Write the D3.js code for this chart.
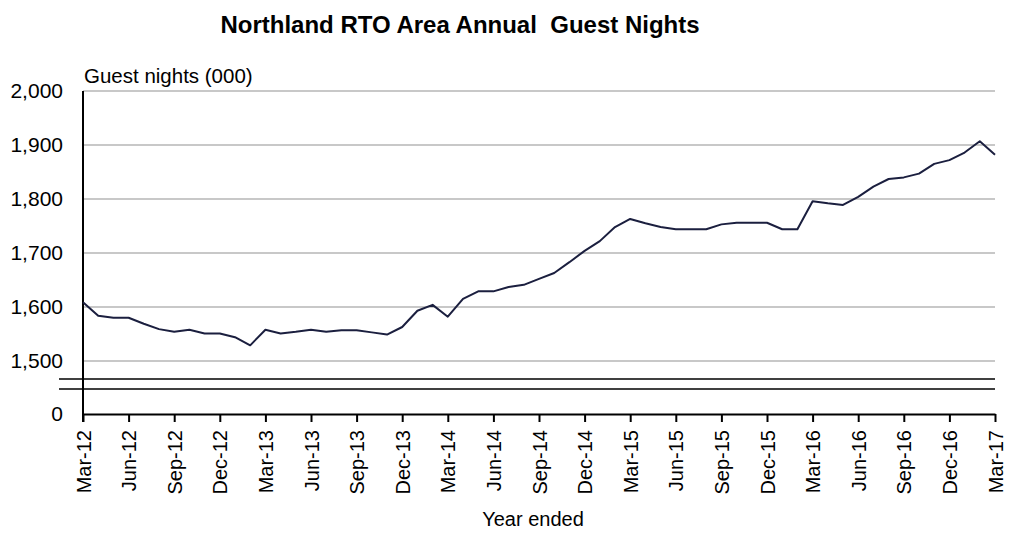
<!DOCTYPE html>
<html>
<head>
<meta charset="utf-8">
<script src="https://cdn.jsdelivr.net/npm/d3@7"></script>
<style>
  body { margin: 0; background: #fff; }
  text { font-family: "Liberation Sans", Arial, sans-serif; fill: #000; }
</style>
</head>
<body>
<div id="chart"></div>
<script>
const months = [
  "Mar-12","Apr-12","May-12","Jun-12","Jul-12","Aug-12","Sep-12","Oct-12","Nov-12","Dec-12",
  "Jan-13","Feb-13","Mar-13","Apr-13","May-13","Jun-13","Jul-13","Aug-13","Sep-13","Oct-13","Nov-13","Dec-13",
  "Jan-14","Feb-14","Mar-14","Apr-14","May-14","Jun-14","Jul-14","Aug-14","Sep-14","Oct-14","Nov-14","Dec-14",
  "Jan-15","Feb-15","Mar-15","Apr-15","May-15","Jun-15","Jul-15","Aug-15","Sep-15","Oct-15","Nov-15","Dec-15",
  "Jan-16","Feb-16","Mar-16","Apr-16","May-16","Jun-16","Jul-16","Aug-16","Sep-16","Oct-16","Nov-16","Dec-16",
  "Jan-17","Feb-17","Mar-17"
];

// guest nights (000), year ended each month
const guestNights = [
  1609, 1584, 1580, 1580, 1569, 1559, 1554, 1558, 1551, 1551,
  1544, 1529, 1558, 1551, 1554, 1558, 1554, 1557, 1557, 1553, 1549, 1563,
  1593, 1604, 1582, 1615, 1629, 1629, 1637, 1641, 1652, 1663, 1683, 1704,
  1722, 1748, 1763, 1755, 1748, 1744, 1744, 1744, 1753, 1756, 1756, 1756,
  1744, 1744, 1796, 1792, 1789, 1804, 1823, 1837, 1840, 1847, 1865, 1872,
  1886, 1907, 1882
];

const tickLabels = months.filter((m, i) => i % 3 === 0);
const yTicks = [1500, 1600, 1700, 1800, 1900, 2000];

const width = 1011, height = 533;
const left = 83, right = 995;

const svg = d3.select("#chart").append("svg")
  .attr("width", width)
  .attr("height", height);

const x = d3.scalePoint().domain(months).range([left, right]);
const y = d3.scaleLinear().domain([1500, 2000]).range([361, 91]); // upper part above the break
const yZero = 414; // the 0 baseline below the break
const breakTop = y(1500) + 18, breakBottom = y(1500) + 28;

// gridlines
svg.append("g")
  .selectAll("line")
  .data(yTicks)
  .enter()
  .append("line")
  .attr("x1", left).attr("x2", right)
  .attr("y1", d => y(d)).attr("y2", d => y(d))
  .attr("stroke", "#c8c8c8")
  .attr("stroke-width", 2);

// y tick labels
const fmt = d3.format(",");
svg.append("g")
  .selectAll("text")
  .data(yTicks.concat([0]))
  .enter()
  .append("text")
  .attr("x", 63)
  .attr("y", d => (d === 0 ? yZero : y(d)) + 7)
  .attr("text-anchor", "end")
  .attr("font-size", 21)
  .text(d => fmt(d));

// axis break lines
svg.append("g")
  .selectAll("line")
  .data([breakTop, breakBottom])
  .enter()
  .append("line")
  .attr("x1", 59).attr("x2", right)
  .attr("y1", d => d).attr("y2", d => d)
  .attr("stroke", "#000")
  .attr("stroke-width", 1.5);

// x axis with ticks every quarter
const xAxis = d3.axisBottom(x)
  .tickValues(tickLabels)
  .tickSize(8)
  .tickSizeOuter(0);

const gx = svg.append("g")
  .attr("transform", `translate(0,${yZero})`)
  .call(xAxis);
gx.select(".domain").attr("stroke", "#000").attr("stroke-width", 2);
gx.selectAll(".tick line").attr("stroke", "#000").attr("stroke-width", 2);
gx.selectAll(".tick text")
  .attr("font-size", 20)
  .attr("font-family", "Liberation Sans, Arial, sans-serif")
  .attr("fill", "#000")
  .attr("text-anchor", "end")
  .attr("transform", "rotate(-90)")
  .attr("x", -16)
  .attr("y", 0)
  .attr("dy", "0.35em")
  .attr("dx", 0);

// y axis line
svg.append("line")
  .attr("x1", left).attr("x2", left)
  .attr("y1", y(2000)).attr("y2", yZero + 8)
  .attr("stroke", "#000")
  .attr("stroke-width", 2);

// the series line
const line = d3.line()
  .x((d, i) => x(months[i]))
  .y(d => y(d));

svg.append("path")
  .datum(guestNights)
  .attr("d", line)
  .attr("fill", "none")
  .attr("stroke", "#1b1f3f")
  .attr("stroke-width", 2)
  .attr("stroke-linejoin", "round");

// titles
svg.append("text")
  .attr("x", 460)
  .attr("y", 33)
  .attr("text-anchor", "middle")
  .attr("font-size", 24)
  .attr("font-weight", "bold")
  .text("Northland RTO Area Annual  Guest Nights")
  .style("white-space", "pre");

svg.append("text")
  .attr("x", 84)
  .attr("y", 83)
  .attr("font-size", 20.5)
  .text("Guest nights (000)");

svg.append("text")
  .attr("x", 533)
  .attr("y", 526)
  .attr("text-anchor", "middle")
  .attr("font-size", 20)
  .text("Year ended");
</script>
</body>
</html>
